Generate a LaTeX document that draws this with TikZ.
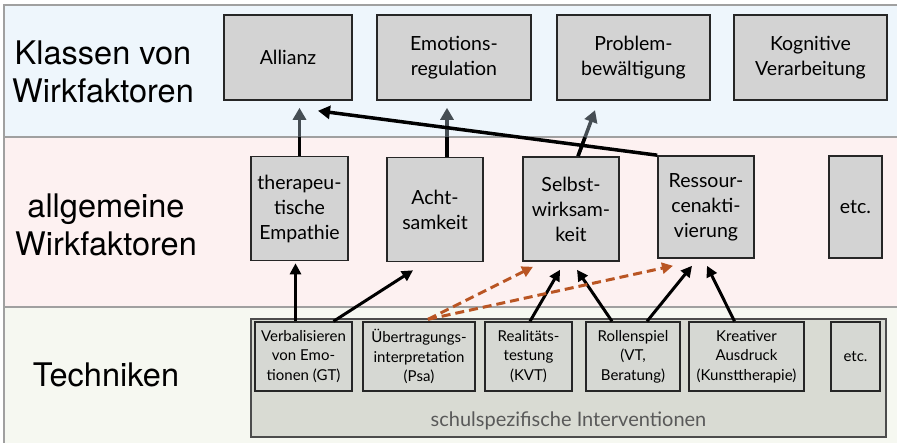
\documentclass[tikz,border=0pt]{standalone}
\usepackage{fontspec}
\setmainfont{TeX Gyre Heros}
\newfontfamily\boxfont{Lato}
\definecolor{bandblue}{RGB}{238,246,252}
\definecolor{bandpink}{RGB}{253,241,241}
\definecolor{bandgreen}{RGB}{246,248,241}
\definecolor{bandline}{RGB}{160,160,160}
\definecolor{boxgray}{RGB}{211,211,211}
\definecolor{techgray}{RGB}{214,216,211}
\definecolor{schoolgray}{RGB}{217,219,211}
\definecolor{slate}{RGB}{70,78,84}
\definecolor{rust}{RGB}{185,85,35}
\usetikzlibrary{arrows.meta,calc}
\tikzset{
  band/.style={draw=bandline, line width=1.5pt},
  level/.style={font=\fontsize{32.5}{38}\selectfont, align=center, inner sep=0pt},
  klasse/.style={draw=black!85, line width=1.6pt, fill=boxgray, inner sep=0pt,
              minimum height=85pt, font=\boxfont\fontsize{19.5}{25}\selectfont, align=center},
  faktor/.style={klasse, minimum height=104pt},
  technik/.style={draw=black!85, line width=1.4pt, fill=techgray, inner sep=0pt,
              minimum height=69pt, font=\boxfont\fontsize{15}{19.5}\selectfont, align=center},
  lift/.style={-{Triangle[length=12pt,width=13pt]}, line width=3.5pt},
  feed/.style={-{Triangle[length=11pt,width=11pt]}, line width=3pt},
  hint/.style={feed, rust, dash pattern=on 9pt off 5pt},
}
\begin{document}
\begin{tikzpicture}[x=1pt, y=-1pt]
  \useasboundingbox (0,0) rectangle (898,447);
  % three bands
  \fill[bandblue] (4,5) rectangle (897,137);
  \fill[bandpink] (4,137) rectangle (897,307);
  \fill[bandgreen] (4,307) rectangle (897,443);
  \draw[band] (897,5) -- (4,5) -- (4,443);
  \draw[band] (4,137) -- (897,137);
  \draw[band] (4,307) -- (897,307);
  \coordinate (band1) at (0,137);

  \node[level] (lklassen) at (103,72) {Klassen von\\Wirkfaktoren};
  \node[level] (lallg) at (106,225) {allgemeine\\Wirkfaktoren};
  \node[level] (ltech) at (106,375) {Techniken};

  % Klassen von Wirkfaktoren
  \node[klasse, minimum width=128pt] (allianz) at (288,57.5) {Allianz};
  \node[klasse, minimum width=154pt] (emo) at (454,57.5) {Emotions-\\regulation};
  \node[klasse, minimum width=153pt] (prob) at (633.5,57.5) {Problem-\\bewältigung};
  \node[klasse, minimum width=153pt] (kogn) at (810.5,57.5) {Kognitive\\Verarbeitung};

  % allgemeine Wirkfaktoren
  \node[faktor, minimum width=97pt] (emp) at (299.5,208.5) {therapeu-\\tische\\Empathie};
  \node[faktor, minimum width=96pt] (acht) at (435,209.5) {Acht-\\samkeit};
  \node[faktor, minimum width=96pt] (selbst) at (571,209) {Selbst-\\wirksam-\\keit};
  \node[faktor, minimum width=96pt, minimum height=102pt] (ress) at (706,207) {Ressour-\\cenakti-\\vierung};
  \node[faktor, minimum width=53pt, minimum height=102pt] (fetc) at (855.5,207) {etc.};

  % Techniken
  \node[draw=black!70, line width=1.4pt, fill=schoolgray, minimum width=635pt, minimum height=118pt,
        inner sep=0pt] (schule) at (568.5,378) {};
  \node[font=\boxfont\fontsize{20}{22}\selectfont, text=black!65, anchor=base] (schultext)
        at (568.5,426) {schulspezifische Interventionen};
  \node[technik, minimum width=97pt] (verb) at (303.5,356.5) {Verbalisieren\\von Emo-\\tionen (GT)};
  \node[technik, minimum width=112pt] (uebr) at (419,356.5) {Übertragungs-\\interpretation\\(Psa)};
  \node[technik, minimum width=87pt] (real) at (528.5,356.5) {Realitäts-\\testung\\(KVT)};
  \node[technik, minimum width=94pt] (roll) at (633,356.5) {Rollenspiel\\(VT,\\Beratung)};
  \node[technik, minimum width=115pt] (krea) at (746.5,356.5) {Kreativer\\Ausdruck\\(Kunsttherapie)};
  \node[technik, minimum width=49pt] (tetc) at (855.5,356.5) {etc.};

  % up into the classes
  \draw[lift, slate] (emp.north) -- ($(emp.north |- allianz.south)+(0,7)$);
  \draw[line width=3.5pt] (emp.north) -- (emp.north |- band1);
  \draw[lift, slate] ([xshift=12pt]acht.north) -- ($([xshift=12pt]acht.north |- emo.south)+(0,7)$);
  \draw[line width=3.5pt] ([xshift=12pt]acht.north) -- ([xshift=12pt]acht.north |- band1);
  \draw[lift, slate, shorten >=10pt] ([xshift=7pt]selbst.north) -- ([xshift=-35pt]prob.south);
  \draw[line width=3.5pt] ([xshift=7pt]selbst.north) -- ($([xshift=7pt]selbst.north)!0.34!([xshift=-35pt]prob.south)$);
  \draw[lift] (ress.north west) -- ([xshift=30pt,yshift=-10pt]allianz.south);

  % techniques to factors
  \draw[feed] ([xshift=-8pt]verb.north) -- ($([xshift=-8pt]verb.north |- emp.south)+(0,2)$);
  \draw[feed] ([xshift=30pt]verb.north) -- ([xshift=-22pt,yshift=-8pt]acht.south);
  \draw[feed] ([xshift=1.5pt]real.north) -- ([xshift=-11pt,yshift=-8pt]selbst.south);
  \draw[feed] ([xshift=-21pt]roll.north) -- ([xshift=6pt,yshift=-8pt]selbst.south);
  \draw[feed] ([xshift=14pt]roll.north) -- ([xshift=-14pt,yshift=-7pt]ress.south);
  \draw[feed] ([xshift=-12pt]krea.north) -- ([xshift=1pt,yshift=-7pt]ress.south);
  \draw[hint] ([xshift=9pt,yshift=2pt]uebr.north) -- ([xshift=-38pt,yshift=-5pt]selbst.south);
  \draw[hint] ([xshift=9pt,yshift=2pt]uebr.north) -- ([xshift=-33pt,yshift=-7pt]ress.south);
\end{tikzpicture}
\end{document}
